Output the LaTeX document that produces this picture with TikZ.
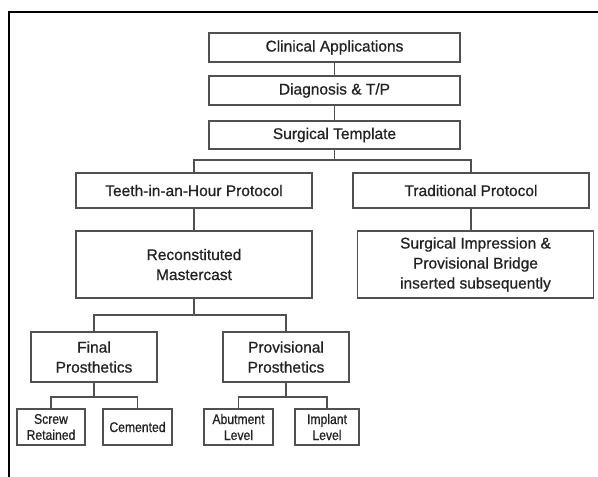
\documentclass[tikz,border=0pt]{standalone}
\usepackage{fontspec}
\setmainfont[FakeBold=0.7]{Liberation Sans}
\newfontfamily\narrowsans[FakeStretch=0.87,FakeBold=0.7]{Liberation Sans}
\usetikzlibrary{positioning}
\definecolor{boxline}{HTML}{505050}
\definecolor{boxtext}{HTML}{222222}

\begin{document}
\begin{tikzpicture}[
  x=1pt, y=-1pt,
  box/.style={draw=boxline, line width=1.7pt, fill=white, align=center, inner sep=0pt, text=boxtext, font=\fontsize{15.5}{20}\selectfont},
  wide/.style={box, minimum width=251pt, minimum height=29pt},
  proto/.style={box, minimum width=236pt, minimum height=35pt},
  tall/.style={box, minimum width=236pt, minimum height=67pt},
  prosth/.style={box, minimum width=126pt, minimum height=50pt},
  leaf/.style={box, minimum width=68pt, minimum height=36pt, font=\narrowsans\fontsize{14}{16}\selectfont},
  link/.style={draw=boxline, line width=1.5pt},
  frame/.style={draw=black, line width=1.2pt}
]
\useasboundingbox (0,0) rectangle (598,477);
\draw[frame] (598,12) -- (9,12) -- (9,477);

\node[wide] (clin) at (334.5,47.5) {Clinical Applications};
\node[wide] (diag) at (334.5,90.5) {Diagnosis \& T/P};
\node[wide, minimum height=28pt] (tmpl) at (334.5,135) {Surgical Template};

\node[proto] (teeth) at (194,190.5) {Teeth-in-an-Hour Protocol};
\node[proto] (trad) at (471,190.5) {Traditional Protocol};
\node[tall] (recon) at (194,264.5) {Reconstituted\\Mastercast};
\node[tall] (impr) at (475.5,264.5) {Surgical Impression \&\\Provisional Bridge\\inserted subsequently};

\node[prosth] (final) at (94,357) {Final\\Prosthetics};
\node[prosth] (prov) at (286,357) {Provisional\\Prosthetics};

\node[leaf] (screw) at (51,427) {Screw\\Retained};
\node[leaf, minimum width=69pt] (cem) at (137.5,427) {Cemented};
\node[leaf, minimum width=69pt] (abut) at (238.5,427) {Abutment\\Level};
\node[leaf, minimum width=64pt] (impl) at (327,427) {Implant\\Level};

\draw[link] (clin) -- (diag);
\draw[link] (diag) -- (tmpl);
\draw[link] (tmpl.south) -- ++(0,10) coordinate (split1) -| (teeth.north);
\draw[link] (split1) -| (trad.north);
\draw[link] (teeth) -- (recon);
\draw[link] (trad.south) -- (trad.south |- impr.north);
\draw[link] (recon.south) -- ++(0,16) coordinate (split2) -| (final.north);
\draw[link] (split2) -| (prov.north);
\draw[link] (final.south) -- ++(0,14) coordinate (split3) -| (screw.north);
\draw[link] (split3) -| (cem.north);
\draw[link] (prov.south) -- ++(0,14) coordinate (split4) -| (abut.north);
\draw[link] (split4) -| (impl.north);

\end{tikzpicture}
\end{document}
